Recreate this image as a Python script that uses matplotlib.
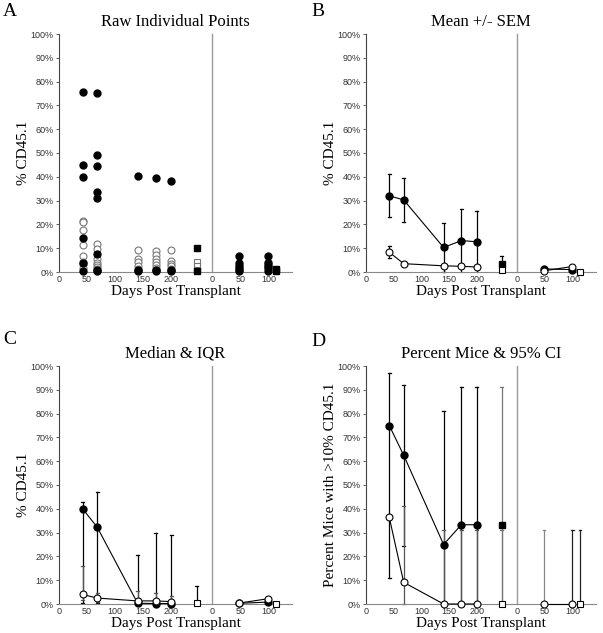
import matplotlib
matplotlib.use('Agg')
import matplotlib.pyplot as plt
import matplotlib.ticker as mticker

# Time points (days post transplant)
days1 = [42, 68, 140, 172, 200]
square_day1 = 245
divider = 273
days2 = [48, 99]
square_day2 = 113

# Panel A - raw individual points (% CD45.1)
a_filled = [[75.5, 44.8, 40.0, 14.2, 3.6, 0.3],
            [75.1, 49.1, 44.7, 33.6, 31.0, 7.6, 1.0, 0.3],
            [40.5, 0.8, 0.3],
            [39.6, 0.8, 0.3],
            [38.2, 1.0, 0.3]]
a_open = [[21.5, 21.0, 17.6, 11.2, 6.8, 4.0, 3.4, 1.5],
          [11.6, 9.6, 5.6, 3.8, 2.8, 2.0, 1.2],
          [9.4, 5.5, 4.2, 2.4, 1.2],
          [9.0, 7.3, 5.6, 4.0, 2.8, 1.7, 1.0],
          [9.4, 4.5, 3.4, 2.4, 1.4]]
a_sq_filled = [10.0, 0.3]
a_sq_open = [4.2, 2.6, 1.0]
a2_filled = [[6.7, 3.6, 2.5, 1.4, 0.4], [6.7, 3.6, 2.6, 1.5, 0.4]]
a2_open = [[2.0, 1.0], [4.4, 3.0]]
a2_sq_filled = [1.2, 0.4]

# Panel B - mean +/- SEM
b_filled = [32.0, 30.3, 10.3, 13.2, 12.7]
b_filled_sem = [9.0, 9.3, 10.2, 13.4, 13.0]
b_open = [8.3, 3.5, 2.6, 2.4, 2.1]
b_open_sem = [2.6, 0.5, 0.5, 0.5, 0.5]
b_sq_filled, b_sq_filled_sem = 3.3, 3.4
b_sq_open = 0.8
b2_filled = [1.3, 1.0]
b2_open = [0.5, 2.3]
b2_sq_open = 0.2

# Panel C - median & IQR
c_filled = [40.0, 32.3, 0.3, 0.2, 0.2]
c_filled_lo = [0.5, 0.5, 0.0, 0.0, 0.0]
c_filled_hi = [42.7, 47.0, 20.5, 29.8, 28.8]
c_open = [4.0, 2.5, 1.3, 1.3, 1.0]
c_open_lo = [1.5, 1.0, 0.5, 0.5, 0.3]
c_open_hi = [15.8, 4.5, 5.3, 4.5, 3.5]
c_sq_open, c_sq_open_hi = 0.3, 7.7
c2_filled = [0.3, 0.8]
c2_open = [0.4, 2.2]
c2_sq_open = 0.2

# Panel D - percent mice with >10% CD45.1 & 95% CI
d_filled = [75.0, 62.5, 25.0, 33.3, 33.3]
d_filled_lo = [10.8, 24.5, 0.0, 0.0, 0.0]
d_filled_hi = [97.0, 91.9, 81.0, 91.0, 91.0]
d_open = [36.4, 9.1, 0.0, 0.0, 0.0]
d_open_lo = [36.4, 0.2, 0.0, 0.0, 0.0]
d_open_hi = [36.4, 41.3, 31.0, 31.0, 31.0]
d_sq_filled, d_sq_filled_hi = 33.3, 91.0
d_sq_open, d_sq_open_hi = 0.0, 31.0
d2_open = [0.0, 0.0]
d2_open_hi = [31.0, 31.0]
d2_sq_open, d2_sq_open_hi = 0.0, 31.0

xtick_pos = [0, 50, 100, 150, 200, 273, 323, 373]
xtick_labels = ['0', '50', '100', '150', '200', '0', '50', '100']
ytick_pos = list(range(0, 101, 10))

SERIF = 'Liberation Serif'
SANS = 'Liberation Sans'
MS = 5
SQ = 3.8


def style_axes(ax, title, ylabel):
    ax.set_xlim(0, 415)
    ax.set_ylim(0, 100)
    ax.axvline(divider, color='#9a9a9a', lw=1.0, zorder=1)
    for s in ['top', 'right']:
        ax.spines[s].set_visible(False)
    ax.spines['left'].set_color('#444444')
    ax.spines['bottom'].set_color('#888888')
    ax.spines['left'].set_linewidth(0.8)
    ax.spines['bottom'].set_linewidth(0.8)
    ax.set_xticks(xtick_pos)
    ax.set_xticklabels(xtick_labels)
    ax.set_yticks(ytick_pos)
    ax.yaxis.set_major_formatter(mticker.FuncFormatter(lambda v, p: '%d%%' % v))
    ax.tick_params(axis='y', length=2.5, width=0.6, color='#444444', pad=1.5)
    ax.tick_params(axis='x', length=0, pad=2)
    for lab in ax.get_xticklabels() + ax.get_yticklabels():
        lab.set_fontfamily(SANS)
        lab.set_fontsize(6.5)
        lab.set_color('#333333')
    ax.set_title(title, fontfamily=SERIF, fontsize=12, pad=6)
    ax.set_xlabel('Days Post Transplant', fontfamily=SERIF, fontsize=11, labelpad=1)
    ax.set_ylabel(ylabel, fontfamily=SERIF, fontsize=11, labelpad=0)


def errbar(ax, x, y, lo, hi, color='black', cap=True):
    ax.plot([x, x], [lo, hi], color=color, lw=0.9, zorder=2)
    if cap:
        for v in (lo, hi):
            if v > 0:
                ax.plot([x - 2.5, x + 2.5], [v, v], color=color, lw=0.9, zorder=2)


fig = plt.figure(figsize=(6.03, 6.33), dpi=100)
W, H = 603.0, 633.0
axA = fig.add_axes([59 / W, 1 - 272 / H, 233 / W, 238 / H])
axB = fig.add_axes([366 / W, 1 - 272 / H, 230 / W, 238 / H])
axC = fig.add_axes([59 / W, 1 - 604 / H, 233 / W, 238 / H])
axD = fig.add_axes([366 / W, 1 - 604 / H, 230 / W, 238 / H])

# Panel letters
for letter, px, py in [('A', 3, 3), ('B', 311, 3), ('C', 3, 331), ('D', 311, 333)]:
    fig.text(px / W, 1 - py / H, letter, fontfamily=SERIF, fontsize=14, va='top', ha='left')

# ---- A
ax = axA
for d, vals in zip(days1, a_open):
    ax.plot([d] * len(vals), vals, 'o', ms=MS, mfc='white', mec='#777777', mew=0.8, zorder=3)
for d, vals in zip(days1, a_filled):
    ax.plot([d] * len(vals), vals, 'o', ms=MS, mfc='black', mec='black', zorder=4)
ax.plot([square_day1] * len(a_sq_open), a_sq_open, 's', ms=SQ, mfc='white', mec='#777777', mew=0.8, zorder=3)
ax.plot([square_day1] * len(a_sq_filled), a_sq_filled, 's', ms=SQ, mfc='black', mec='black', zorder=4)
for d, vals in zip(days2, a2_open):
    ax.plot([divider + d] * len(vals), vals, 'o', ms=MS, mfc='white', mec='#777777', mew=0.8, zorder=3)
for d, vals in zip(days2, a2_filled):
    ax.plot([divider + d] * len(vals), vals, 'o', ms=MS, mfc='black', mec='black', zorder=4)
ax.plot([divider + square_day2] * len(a2_sq_filled), a2_sq_filled, 's', ms=SQ, mfc='black', mec='black', zorder=4)
style_axes(ax, 'Raw Individual Points', '% CD45.1')

# ---- B
ax = axB
for d, m, s in zip(days1, b_filled, b_filled_sem):
    errbar(ax, d, m, max(m - s, 0), m + s)
for d, m, s in zip(days1, b_open, b_open_sem):
    errbar(ax, d, m, max(m - s, 0), m + s)
ax.plot(days1, b_filled, '-o', color='black', lw=0.8, ms=MS, mfc='black', zorder=4)
ax.plot(days1, b_open, '-o', color='black', lw=0.8, ms=MS, mfc='white', mew=0.8, zorder=4)
errbar(ax, square_day1, b_sq_filled, max(b_sq_filled - b_sq_filled_sem, 0), b_sq_filled + b_sq_filled_sem)
ax.plot(square_day1, b_sq_filled, 's', ms=SQ, mfc='black', mec='black', zorder=4)
ax.plot(square_day1, b_sq_open, 's', ms=SQ, mfc='white', mec='black', mew=0.8, zorder=4)
x2 = [divider + d for d in days2]
ax.plot(x2, b2_filled, '-o', color='black', lw=0.8, ms=MS, mfc='black', zorder=4)
ax.plot(x2, b2_open, '-o', color='black', lw=0.8, ms=MS, mfc='white', mew=0.8, zorder=5)
ax.plot(divider + square_day2, b2_sq_open, 's', ms=SQ, mfc='white', mec='black', mew=0.8, zorder=4)
style_axes(ax, 'Mean +/- SEM', '% CD45.1')

# ---- C
ax = axC
for d, lo, hi in zip(days1, c_filled_lo, c_filled_hi):
    errbar(ax, d, 0, lo, hi)
for d, lo, hi in zip(days1, c_open_lo, c_open_hi):
    errbar(ax, d, 0, lo, hi, color='#555555')
ax.plot(days1, c_filled, '-o', color='black', lw=0.8, ms=MS, mfc='black', zorder=4)
ax.plot(days1, c_open, '-o', color='black', lw=0.8, ms=MS, mfc='white', mew=0.8, zorder=5)
errbar(ax, square_day1, 0, 0, c_sq_open_hi)
ax.plot(square_day1, c_sq_open, 's', ms=SQ + 0.6, mfc='white', mec='black', mew=0.8, zorder=4)
ax.plot(x2, c2_filled, '-o', color='black', lw=0.8, ms=MS, mfc='black', zorder=4)
ax.plot(x2, c2_open, '-o', color='black', lw=0.8, ms=MS, mfc='white', mew=0.8, zorder=5)
ax.plot(divider + square_day2, c2_sq_open, 's', ms=SQ, mfc='white', mec='black', mew=0.8, zorder=4)
style_axes(ax, 'Median & IQR', '% CD45.1')

# ---- D
ax = axD
for d, lo, hi in zip(days1, d_filled_lo, d_filled_hi):
    errbar(ax, d, 0, lo, hi)
for d, lo, hi in zip(days1, d_open_lo, d_open_hi):
    errbar(ax, d, 0, lo, hi, color='#555555')
ax.plot(days1, d_filled, '-o', color='black', lw=0.8, ms=MS, mfc='black', zorder=4)
ax.plot(days1, d_open, '-o', color='black', lw=0.8, ms=MS, mfc='white', mew=0.8, zorder=5)
errbar(ax, square_day1, 0, 0, d_sq_filled_hi, color='#777777')
errbar(ax, square_day1, 0, 0, d_sq_open_hi, color='#777777')
ax.plot(square_day1, d_sq_filled, 's', ms=SQ, mfc='black', mec='black', zorder=4)
ax.plot(square_day1, d_sq_open, 's', ms=SQ, mfc='white', mec='black', mew=0.8, zorder=4)
for d, hi, c in zip(days2, d2_open_hi, ['#888888', '#222222']):
    errbar(ax, divider + d, 0, 0, hi, color=c)
errbar(ax, divider + square_day2, 0, 0, d2_sq_open_hi, color='#222222')
ax.plot(x2, d2_open, '-o', color='black', lw=0.8, ms=MS, mfc='white', mew=0.8, zorder=5)
ax.plot(divider + square_day2, d2_sq_open, 's', ms=SQ, mfc='white', mec='black', mew=0.8, zorder=5)
style_axes(ax, 'Percent Mice & 95% CI', 'Percent Mice with >10% CD45.1')

for a in [axA, axB, axC, axD]:
    for ln in a.lines:
        ln.set_clip_on(False)

fig.savefig('out.png', dpi=100)
